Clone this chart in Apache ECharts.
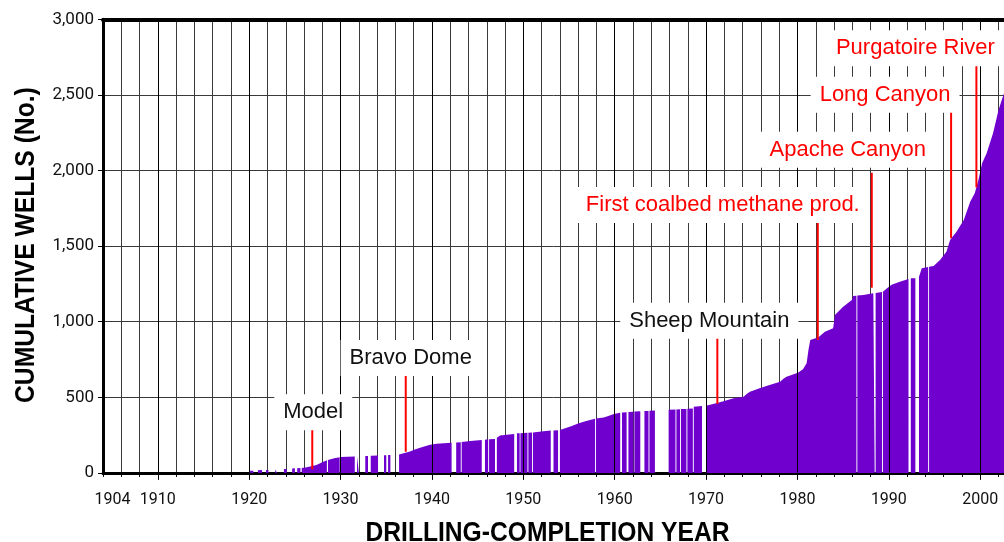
<!DOCTYPE html>
<html>
<head>
<meta charset="utf-8">
<title>Cumulative wells by drilling-completion year</title>
<script src="https://cdn.jsdelivr.net/npm/echarts/dist/echarts.min.js"></script>
<style>
  html, body { margin: 0; padding: 0; background: #fff; }
  #chart { width: 1004px; height: 542px; }
</style>
</head>
<body>
<div id="chart"></div>
<script>
// ---- Data -------------------------------------------------------------
// Cumulative well count along the completion-year axis.
// Each line below is one continuous span of completions; a null entry
// separates spans (periods with no completions are left blank).
const completionYears = [
  1904.0, 1904.2, null,
  1907.9, 1908.1, null,
  1910.0, 1910.2, null,
  1917.0, 1917.2, null,
  1920.1, 1920.45, null,
  1920.95, 1921.4, null,
  1921.85, 1922.1, null,
  1922.85, 1923.05, null,
  1923.8, 1924.1, null,
  1924.7, 1925.0, null,
  1925.25, 1925.6, null,
  1925.75, 1926.3, 1926.9, 1927.35, 1928.0, 1928.5, null,
  1928.62, 1929.3, 1929.9, null,
  1930.0, 1930.8, 1931.55, null,
  1931.8, 1932.0, null,
  1932.7, 1933.0, null,
  1933.3, 1934.1, null,
  1934.75, 1935.0, null,
  1935.2, 1935.45, null,
  1936.4, 1936.9, 1937.6, 1938.2, 1939.05, 1939.8, 1940.5, 1941.3, 1942.15, null,
  1942.65, 1943.15, null,
  1943.25, 1944.2, 1945.45, null,
  1945.8, 1946.15, null,
  1946.25, 1946.9, null,
  1947.1, 1947.45, 1948.2, 1949.0, null,
  1949.3, 1949.6, null,
  1949.68, 1950.45, null,
  1950.55, 1950.95, null,
  1951.05, 1952.2, 1953.0, null,
  1953.3, 1953.8, null,
  1954.0, 1954.5, 1955.3, 1956.0, 1956.6, 1957.3, 1957.85, null,
  1957.95, 1958.8, 1959.3, 1959.9, 1960.6, null,
  1960.8, 1961.3, null,
  1961.5, 1962.05, null,
  1962.15, 1962.8, null,
  1963.25, 1963.7, null,
  1963.8, 1964.4, null,
  1965.9, 1966.65, null,
  1966.75, 1967.15, null,
  1967.25, 1967.85, null,
  1967.95, 1968.55, null,
  1968.65, 1969.55, null,
  1970.0, 1971.2, 1972.0, 1973.0, 1974.1, 1974.5, 1974.8, 1975.7, 1976.6, 1977.3,
  1978.1, 1978.5, 1978.8, 1979.5, 1980.05, 1980.6, 1981.0, 1981.2, 1981.4, 1982.3,
  1983.0, 1983.9, 1984.1, 1985.0, 1985.95, 1986.1, 1986.45, null,
  1986.55, 1987.2, 1988.3, 1988.45, null,
  1988.55, 1989.25, null,
  1989.35, 1989.8, 1990.3, 1991.2, 1992.15, null,
  1992.4, 1992.9, null,
  1993.3, 1993.6, 1994.3, null,
  1994.4, 1994.9, 1995.6, 1996.3, 1996.7, 1997.4, 1998.2, 1998.9, 1999.4, 1999.8,
  2000.2, 2000.7, 2001.4, 2002.0, 2002.6
];
const cumulativeWells = [
  4, 4, null,
  4, 4, null,
  4, 4, null,
  5, 5, null,
  14, 14, null,
  18, 19, null,
  19, 19, null,
  23, 23, null,
  25, 25, null,
  29, 30, null,
  31, 32, null,
  33, 38, 45, 52, 70, 84, null,
  86, 97, 104, null,
  105, 106, 108, null,
  110, 110, null,
  112, 112, null,
  114, 115, null,
  116, 116, null,
  118, 118, null,
  122, 130, 142, 156, 173, 186, 192, 196, 199, null,
  201, 203, null,
  204, 211, 218, null,
  220, 222, null,
  222, 224, null,
  232, 248, 253, 257, null,
  262, 263, null,
  263, 265, null,
  266, 267, null,
  268, 276, 280, null,
  281, 282, null,
  284, 294, 311, 326, 338, 350, 358, null,
  360, 366, 376, 390, 398, null,
  400, 401, null,
  403, 405, null,
  406, 407, null,
  409, 410, null,
  411, 413, null,
  418, 420, null,
  420, 421, null,
  422, 423, null,
  424, 426, null,
  438, 442, null,
  444, 462, 476, 493, 504, 525, 537, 556, 575, 588,
  603, 625, 636, 650, 663, 685, 725, 813, 879, 897,
  934, 956, 1044, 1099, 1144, 1170, 1172, null,
  1173, 1177, 1188, 1189, null,
  1190, 1197, null,
  1198, 1221, 1245, 1265, 1282, null,
  1287, 1288, null,
  1298, 1353, 1362, null,
  1363, 1368, 1408, 1463, 1541, 1595, 1673, 1794, 1849, 1937,
  2048, 2114, 2246, 2400, 2511
];

// Field / milestone annotations: year, and the span of the marker line (wells)
const noteNames = ['Model', 'Bravo Dome', 'Sheep Mountain', 'First coalbed methane prod.',
                   'Apache Canyon', 'Long Canyon', 'Purgatoire River'];
const noteYears = [1926.9, 1937.13, 1971.23, 1982.22, 1988.13, 1996.81, 1999.58];
const noteLow   = [24, 140, 456, 879, 1225, 1552, 1889];
const noteHigh  = [288, 641, 894, 1673, 1985, 2389, 2709];

// Axis ticks
const yearLabels  = [1904, 1910, 1920, 1930, 1940, 1950, 1960, 1970, 1980, 1990, 2000];
const decadeYears = [1910, 1920, 1930, 1940, 1950, 1960, 1970, 1980, 1990, 2000];
const wellTicks   = [0, 500, 1000, 1500, 2000, 2500, 3000];

// Axis titles
const xTitle = 'DRILLING-COMPLETION YEAR';
const yTitle = 'CUMULATIVE WELLS (No.)';

// ---- Styling ----------------------------------------------------------
const TICK_FONT = 'Roboto, "Liberation Sans", sans-serif';
const NOTE_FONT = '"Liberation Sans", Arial, sans-serif';
const TITLE_FONT = 'bold 28px "Liberation Sans", Arial, sans-serif';
const TITLE_SQUEEZE = 0.88;   // condensed look for the axis titles
const FILL = '#6f00ce';
const GRID = '#3a3a3a';
const noteColors = ['#111', '#111', '#111', '#ff0000', '#ff0000', '#ff0000', '#ff0000'];
// label centre relative to the top of each marker line, in pixels
const noteLabelShift = [[1, -17], [5, -18], [-8, -17], [-95, -15], [-24, -23], [-66, -17], [-61, -15]];

const X_MIN = 1904, X_MAX = 2002.6;
const GRID_LEFT = 103, GRID_TOP = 19.3, GRID_BOTTOM = 69.1;

const wellData = completionYears.map((yr, i) =>
  yr === null ? [NaN, NaN] : [yr, cumulativeWells[i]]);

const noteData = noteYears.map((yr, i) => [yr, noteLow[i], noteHigh[i], i]);

const chart = echarts.init(document.getElementById('chart'), null, { renderer: 'canvas' });
const W = chart.getWidth(), H = chart.getHeight();

chart.setOption({
  animation: false,
  backgroundColor: '#fff',
  grid: {
    left: GRID_LEFT, right: 0, top: GRID_TOP, bottom: GRID_BOTTOM,
    containLabel: false, outerBoundsMode: 'none'
  },
  graphic: [
    {
      type: 'text',
      x: (GRID_LEFT + W) / 2 - 6, y: 533,
      scaleX: TITLE_SQUEEZE,
      silent: true,
      style: {
        text: xTitle, font: TITLE_FONT, fill: '#000',
        align: 'center', verticalAlign: 'middle',
        textAlign: 'center', textVerticalAlign: 'middle'
      }
    },
    {
      type: 'text',
      x: 26, y: (GRID_TOP + H - GRID_BOTTOM) / 2 - 1,
      rotation: Math.PI / 2,
      scaleX: TITLE_SQUEEZE,
      silent: true,
      style: {
        text: yTitle, font: TITLE_FONT, fill: '#000',
        align: 'center', verticalAlign: 'middle',
        textAlign: 'center', textVerticalAlign: 'middle'
      }
    }
  ],
  xAxis: [
    {
      type: 'value', min: X_MIN, max: X_MAX, interval: 2, position: 'bottom',
      axisLine: { show: true, onZero: false, lineStyle: { color: '#000', width: 3 } },
      axisTick: { show: true, length: 4, lineStyle: { color: '#000', width: 1 } },
      axisLabel: {
        customValues: yearLabels,
        margin: 19, color: '#111', fontSize: 16, fontFamily: TICK_FONT,
        formatter: v => v === 1904 ? '{first|1904}' : String(v),
        rich: { first: { padding: [0, 0, 0, 19], fontSize: 16, fontFamily: TICK_FONT, color: '#111' } }
      },
      splitLine: { show: true, lineStyle: { color: GRID, width: 1 } }
    },
    {
      // longer ticks on the decades
      type: 'value', min: X_MIN, max: X_MAX, position: 'bottom',
      axisLine: { show: false, onZero: false },
      axisTick: { show: true, customValues: decadeYears, length: 7, lineStyle: { color: '#000', width: 1 } },
      axisLabel: { show: false },
      splitLine: { show: false }
    },
    {
      // heavy top frame
      type: 'value', min: X_MIN, max: X_MAX, position: 'top',
      axisLine: { show: true, onZero: false, lineStyle: { color: '#000', width: 4 } },
      axisTick: { show: false }, axisLabel: { show: false }, splitLine: { show: false }
    }
  ],
  yAxis: {
    type: 'value', min: wellTicks[0], max: wellTicks[wellTicks.length - 1], interval: 500,
    axisLine: { show: true, onZero: false, lineStyle: { color: '#000', width: 3 } },
    axisTick: { show: true, length: 5, lineStyle: { color: '#000', width: 1 } },
    axisLabel: {
      margin: 9, color: '#111', fontSize: 17, fontFamily: TICK_FONT,
      formatter: v => v.toLocaleString('en-US')
    },
    splitLine: { show: true, lineStyle: { color: GRID, width: 1 } }
  },
  series: [
    {
      name: 'Cumulative wells',
      type: 'line',
      xAxisIndex: 0, yAxisIndex: 0,
      data: wellData,
      connectNulls: false,
      showSymbol: false, symbol: 'none',
      lineStyle: { width: 0, opacity: 0 },
      areaStyle: { color: FILL, opacity: 1 },
      silent: true,
      z: 2,
      markLine: {
        silent: true,
        symbol: ['none', 'none'],
        label: { show: false },
        lineStyle: { color: '#000', width: 1, type: 'solid' },
        emphasis: { disabled: true },
        data: decadeYears.map(v => ({ xAxis: v }))
      }
    },
    {
      name: 'Milestones',
      type: 'custom',
      xAxisIndex: 0, yAxisIndex: 0,
      z: 10,
      silent: true,
      data: noteData,
      encode: { x: 0, y: [1, 2] },
      renderItem: (params, api) => {
        const i = api.value(3);
        const base = api.coord([api.value(0), api.value(1)]);
        const top = api.coord([api.value(0), api.value(2)]);
        const color = noteColors[i];
        const shift = noteLabelShift[i];
        return {
          type: 'group',
          children: [
            {
              type: 'line',
              shape: { x1: top[0], y1: base[1], x2: top[0], y2: top[1] },
              style: { stroke: '#ff0000', lineWidth: 2 }
            },
            {
              type: 'text',
              x: top[0] + shift[0],
              y: top[1] + shift[1],
              style: {
                text: noteNames[i],
                fill: color,
                fontSize: 22,
                fontFamily: NOTE_FONT,
                align: 'center', verticalAlign: 'middle',
                textAlign: 'center', textVerticalAlign: 'middle',
                backgroundColor: '#fff',
                padding: [7, 9]
              }
            }
          ]
        };
      }
    }
  ]
});
</script>
</body>
</html>
